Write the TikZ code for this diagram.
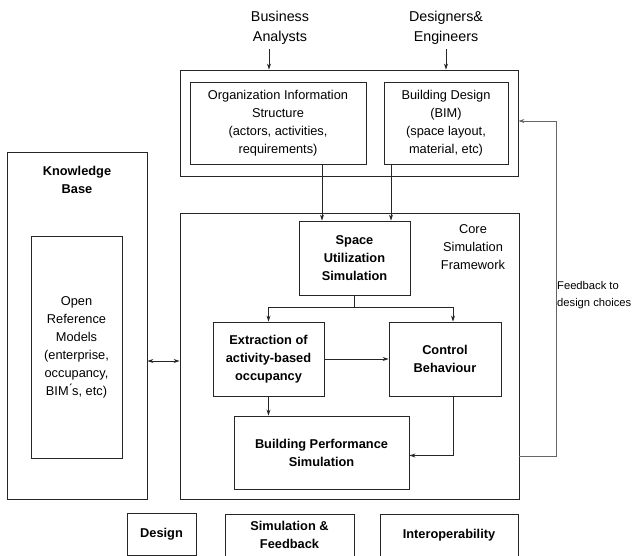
\documentclass[tikz,border=0pt]{standalone}
\usepackage{fontspec}
\setmainfont{Liberation Sans}
\usetikzlibrary{arrows.meta}
\begin{document}
\begin{tikzpicture}[x=1pt,y=-1pt,
  every node/.style={font=\fontsize{12.8}{18}\selectfont, align=center, inner sep=0pt},
  box/.style={draw=black!85, line width=0.9pt, rectangle},
  bbox/.style={box, font=\fontsize{12.8}{18}\selectfont\bfseries},
  actor/.style={font=\fontsize{14.3}{20}\selectfont},
  txt/.style={},
  arr/.style={draw=black!85, line width=0.9pt, -{Stealth[length=6pt,width=4pt]}},
  line/.style={draw=black!85, line width=0.9pt}]
\useasboundingbox (0,0) rectangle (633,556);

% actors
\node[actor] (ba) at (280,28) {Business\\Analysts};
\node[actor] (de) at (446,28) {Designers\&\\Engineers};

% top input box
\node[box, minimum width=338, minimum height=106] (top) at (349,123) {};
\node[box, minimum width=176, minimum height=82] (org) at (278,123) {Organization Information\\Structure\\(actors, activities,\\requirements)};
\node[box, minimum width=124, minimum height=82] (bim) at (446,123) {Building Design\\(BIM)\\(space layout,\\material, etc)};

% core
\node[box, minimum width=339, minimum height=286] (core) at (349.5,356) {};
\node[txt] (csf) at (473,247) {Core\\Simulation\\Framework};
\node[bbox, minimum width=111, minimum height=74] (sus) at (354.5,258) {Space\\Utilization\\Simulation};
\node[bbox, minimum width=111, minimum height=74] (ext) at (268.5,359) {Extraction of\\activity-based\\occupancy};
\node[bbox, minimum width=112, minimum height=74] (ctl) at (445,359) {Control\\Behaviour};
\node[bbox, minimum width=175, minimum height=73] (bps) at (321.5,452.5) {Building Performance\\Simulation};

% knowledge base
\node[box, minimum width=140, minimum height=347] (kb) at (77,325.5) {};
\node[txt, font=\fontsize{12.8}{18}\selectfont\bfseries] (kbt) at (77,180) {Knowledge\\Base};
\node[box, minimum width=91, minimum height=222] (orm) at (76.5,347) {Open\\Reference\\Models\\(enterprise,\\occupancy,\\BIM\'{}s, etc)};

% bottom boxes
\node[bbox, minimum width=69, minimum height=42] (dsg) at (161.5,534) {Design};
\node[bbox, minimum width=129, minimum height=42] (sim) at (289.5,535) {Simulation \&\\Feedback};
\node[bbox, minimum width=138, minimum height=42] (iop) at (449,535) {Interoperability};

% feedback label
\node[txt, anchor=west, align=left, font=\fontsize{11.2}{16.5}\selectfont] (fbl) at (557,295) {Feedback to\\design choices};

% connectors
\draw[arr] ([xshift=-11pt,yshift=-4pt]ba.south) -- ([xshift=-11pt]ba.south |- top.north);
\draw[arr] ([yshift=-4pt]de.south) -- (de.south |- top.north);
\draw[arr] ([xshift=44pt]org.south) -- ([xshift=44pt]org.south |- sus.north);
\draw[arr] ([xshift=-55pt]bim.south) -- ([xshift=-55pt]bim.south |- sus.north);
\draw[arr] (sus.south) -- ++(0,12) -| (ext.north);
\draw[arr] (sus.south) -- ++(0,12) -| ([xshift=8pt]ctl.north);
\draw[arr] (ext.east) -- (ctl.west);
\draw[arr] (ext.south) -- (ext.south |- bps.north);
\draw[arr] ([xshift=8pt]ctl.south) |- ([yshift=-3pt]bps.east);
\draw[draw=black!85, line width=0.9pt, {Stealth[length=6pt,width=4pt]}-{Stealth[length=6pt,width=4pt]}] ([yshift=-5pt]core.west -| kb.east) -- ([yshift=-5pt]core.west);
\draw[arr, draw=black!60] ([yshift=-100pt]core.east) -- ++(37,0) |- ([yshift=2pt]top.east);
\end{tikzpicture}
\end{document}
